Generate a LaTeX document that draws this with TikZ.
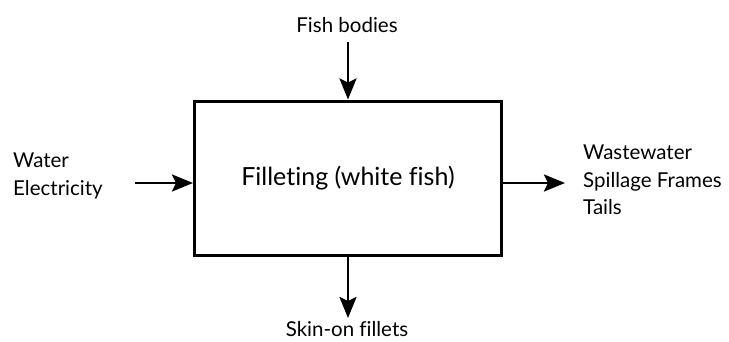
\documentclass[tikz,border=0pt]{standalone}
\usepackage{fontspec}
\setmainfont[Ligatures={NoCommon}]{Lato}
\usetikzlibrary{arrows.meta}
\begin{document}
\begin{tikzpicture}[x=1pt,y=-1pt,
    flow/.style={-{Stealth[length=21pt,width=17pt,inset=4pt]}, line width=2.5pt},
    label/.style={font=\fontsize{20.5}{27.5}\selectfont, inner sep=0pt}]
    \useasboundingbox (0,0) rectangle (729,341);
    \node[draw, line width=3pt, minimum width=307pt, minimum height=154pt,
          font=\fontsize{25}{30}\selectfont] (box) at (348,178) {Filleting (white fish)};
    % inputs and outputs
    \node[label] (fish) at (347,25) {Fish bodies};
    \node[label, anchor=west, align=left] (water) at (13,176) {Water\\Electricity};
    \node[label, anchor=west, align=left] (waste) at (583,180) {Wastewater\\Spillage Frames\\Tails};
    \node[label] (fillets) at (347,329) {Skin-on fillets};
    \coordinate (fishin) at (348,42);
    \coordinate (waterin) at (135,183);
    \coordinate (wasteout) at (565,183);
    \coordinate (filletsout) at (348,318);
    \draw[flow] (fishin) -- (box.north);
    \draw[flow] (waterin) -- (box.west |- waterin);
    \draw[flow] (box.east |- wasteout) -- (wasteout);
    \draw[flow] (box.south) -- (filletsout);
\end{tikzpicture}
\end{document}
